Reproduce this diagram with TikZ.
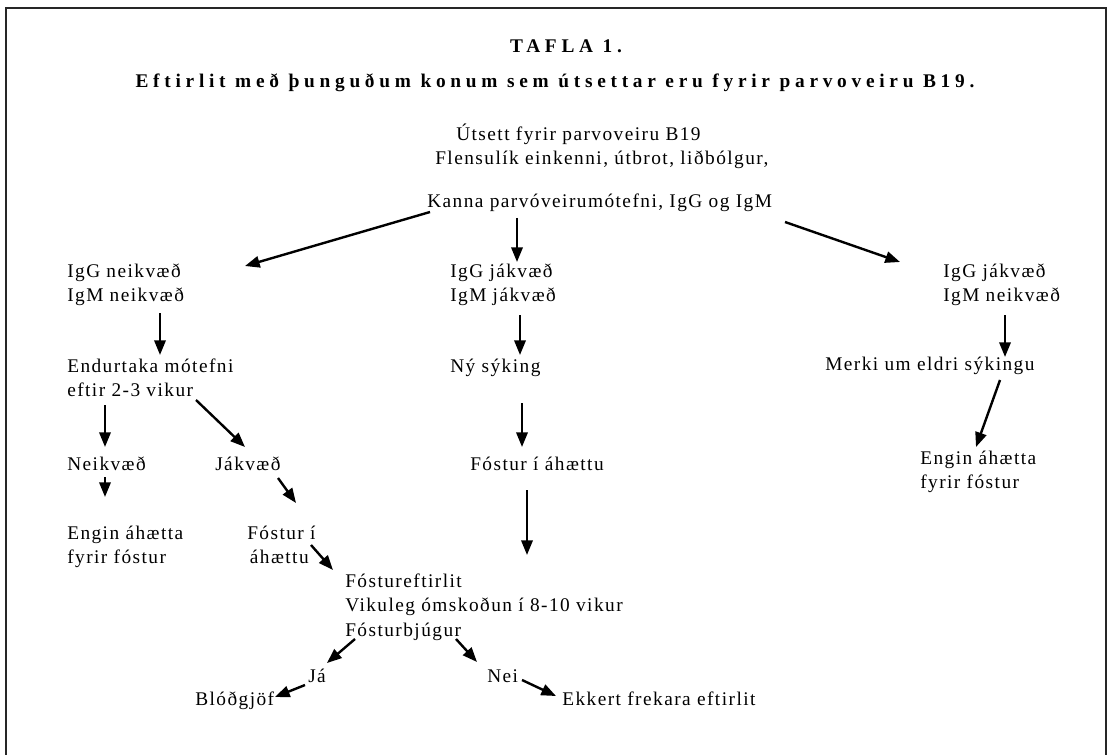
\documentclass[tikz,border=0pt]{standalone}
\usepackage{fontspec}
\setmainfont{Liberation Serif}[LetterSpace=7.5, BoldFeatures={LetterSpace=24.5}]
\usetikzlibrary{arrows.meta}
\tikzset{
  txt/.style={anchor=north west, inner sep=0pt, align=left, font=\fontsize{14.5}{18.5}\selectfont},
  ttl/.style={anchor=north, inner sep=0pt, font=\fontsize{14.5}{18.5}\selectfont\bfseries},
  arr/.style={line width=1.8pt, -{Triangle[length=11pt,width=8.5pt]}},
  frame/.style={line width=1.5pt, black!85}
}
\begin{document}
\begin{tikzpicture}[x=0.75pt, y=-0.75pt]
\useasboundingbox (0,0) rectangle (1112,755);
\draw[frame] (6,755) -- (6,8) -- (1106,8) -- (1106,755);

\node[ttl] (title) at (566,34.6) {\strut TAFLA 1.};
\node[ttl] (sub) at (555,69.6) {\strut Eftirlit með þunguðum konum sem útsettar eru fyrir parvoveiru B19.};
\node[txt] (exp) at (456,122.6) {\strut Útsett fyrir parvoveiru B19};
\node[txt] (flu) at (435,146.6) {\strut Flensulík einkenni, útbrot, liðbólgur,};
\node[txt] (kanna) at (427,189.6) {\strut Kanna parvóveirumótefni, IgG og IgM};

\node[txt] (ineg) at (67,259.6) {\strut IgG neikvæð\\\strut IgM neikvæð};
\node[txt] (ipos) at (450,259.6) {\strut IgG jákvæð\\\strut IgM jákvæð};
\node[txt] (iold) at (943,259.6) {\strut IgG jákvæð\\\strut IgM neikvæð};

\node[txt] (rep) at (67,354.6) {\strut Endurtaka mótefni\\\strut eftir 2-3 vikur};
\node[txt] (new) at (450,354.6) {\strut Ný sýking};
\node[txt] (old) at (825,352.6) {\strut Merki um eldri sýkingu};

\node[txt] (neg) at (67,452.6) {\strut Neikvæð};
\node[txt] (pos) at (215,452.6) {\strut Jákvæð};
\node[txt] (risk) at (470,452.6) {\strut Fóstur í áhættu};
\node[txt] (nor) at (920,446.6) {\strut Engin áhætta\\\strut fyrir fóstur};

\node[txt] (norl) at (67,521.6) {\strut Engin áhætta\\\strut fyrir fóstur};
\node[txt] (risk2) at (247,521.6) {\strut Fóstur í\\\strut\hspace{2pt}áhættu};

\node[txt] (mon) at (345,569.6) {\strut Fóstureftirlit\\\strut Vikuleg ómskoðun í 8-10 vikur\\\strut Fósturbjúgur};
\node[txt] (ja) at (308,664.6) {\strut Já};
\node[txt] (nei) at (487,664.6) {\strut Nei};
\node[txt] (blod) at (195,687.6) {\strut Blóðgjöf};
\node[txt] (ekk) at (562,687.6) {\strut Ekkert frekara eftirlit};

\draw[arr] ([shift={(3,22.4)}]kanna.north west) -- ([shift={(178,6.4)}]ineg.north west);
\draw[arr] ([shift={(90,28.4)}]kanna.north west) -- ([shift={(67,2.4)}]ipos.north west);
\draw[arr] ([shift={(358,32.4)}]kanna.north west) -- ([shift={(-43,2.4)}]iold.north west);

\draw[arr] ([shift={(93,53.4)}]ineg.north west) -- ([shift={(93,0.4)}]rep.north west);
\draw[arr] ([shift={(70,55.4)}]ipos.north west) -- ([shift={(70,0.4)}]new.north west);
\draw[arr] ([shift={(62,55.4)}]iold.north west) -- ([shift={(180,4.4)}]old.north west);

\draw[arr] ([shift={(38,50.4)}]rep.north west) -- ([shift={(38,-5.6)}]neg.north west);
\draw[arr] ([shift={(129,45.4)}]rep.north west) -- ([shift={(30,-5.6)}]pos.north west);
\draw[arr] ([shift={(72,48.4)}]new.north west) -- ([shift={(52,-5.6)}]risk.north west);
\draw[arr] ([shift={(175,27.4)}]old.north west) -- ([shift={(56,0.4)}]nor.north west);

\draw[arr] ([shift={(38,24.4)}]neg.north west) -- ([shift={(38,-24.6)}]norl.north west);
\draw[arr] ([shift={(63,25.4)}]pos.north west) -- ([shift={(49,-18.6)}]risk2.north west);
\draw[arr] ([shift={(57,37.4)}]risk.north west) -- ([shift={(182,-14.6)}]mon.north west);
\draw[arr] ([shift={(64,23.4)}]risk2.north west) -- ([shift={(-12,0.4)}]mon.north west);

\draw[arr] ([shift={(10,69.4)}]mon.north west) -- ([shift={(19,-1.6)}]ja.north west);
\draw[arr] ([shift={(111,69.4)}]mon.north west) -- ([shift={(-10,-2.6)}]nei.north west);
\draw[arr] ([shift={(-3,20.4)}]ja.north west) -- ([shift={(80,9.4)}]blod.north west);
\draw[arr] ([shift={(35,15.4)}]nei.north west) -- ([shift={(-6,8.4)}]ekk.north west);
\end{tikzpicture}
\end{document}
